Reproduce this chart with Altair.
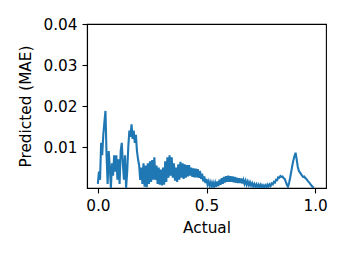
import altair as alt
import pandas as pd

actual = [
    0.000, 0.005, 0.010, 0.015, 0.020, 0.025, 0.030, 0.035, 0.040, 0.045,
    0.050, 0.055, 0.060, 0.065, 0.070, 0.075, 0.080, 0.085, 0.090, 0.095,
    0.100, 0.105, 0.110, 0.115, 0.120, 0.125, 0.130, 0.135, 0.140, 0.145,
    0.150, 0.155, 0.160, 0.165, 0.170, 0.175, 0.180, 0.185, 0.190, 0.195,
    0.200, 0.205, 0.210, 0.215, 0.220, 0.225, 0.230, 0.235, 0.240, 0.245,
    0.250, 0.255, 0.260, 0.265, 0.270, 0.275, 0.280, 0.285, 0.290, 0.295,
    0.300, 0.305, 0.310, 0.315, 0.320, 0.325, 0.330, 0.335, 0.340, 0.345,
    0.350, 0.355, 0.360, 0.365, 0.370, 0.375, 0.380, 0.385, 0.390, 0.395,
    0.400, 0.405, 0.410, 0.415, 0.420, 0.425, 0.430, 0.435, 0.440, 0.445,
    0.450, 0.455, 0.460, 0.465, 0.470, 0.475, 0.480, 0.485, 0.490, 0.495,
    0.500, 0.505, 0.510, 0.515, 0.520, 0.525, 0.530, 0.535, 0.540, 0.545,
    0.550, 0.555, 0.560, 0.565, 0.570, 0.575, 0.580, 0.585, 0.590, 0.595,
    0.600, 0.605, 0.610, 0.615, 0.620, 0.625, 0.630, 0.635, 0.640, 0.645,
    0.650, 0.655, 0.660, 0.665, 0.670, 0.675, 0.680, 0.685, 0.690, 0.695,
    0.700, 0.705, 0.710, 0.715, 0.720, 0.725, 0.730, 0.735, 0.740, 0.745,
    0.750, 0.755, 0.760, 0.765, 0.770, 0.775, 0.780, 0.785, 0.790, 0.795,
    0.800, 0.805, 0.810, 0.815, 0.820, 0.825, 0.830, 0.835, 0.840, 0.845,
    0.850, 0.855, 0.860, 0.865, 0.870, 0.875, 0.880, 0.885, 0.890, 0.895,
    0.900, 0.905, 0.910, 0.915, 0.920, 0.925, 0.930, 0.935, 0.940, 0.945,
    0.950, 0.955, 0.960, 0.965, 0.970, 0.975, 0.980, 0.985, 0.990, 0.995,
]

predicted_mae = [
    0.0010, 0.0040, 0.0020, 0.0110, 0.0080, 0.0130, 0.0160, 0.0188, 0.0080, 0.0010,
    0.0090, 0.0050, 0.0000, 0.0060, 0.0030, 0.0080, 0.0040, 0.0080, 0.0020, 0.0070,
    0.0010, 0.0090, 0.0110, 0.0060, 0.0020, 0.0080, 0.0000, 0.0040, 0.0100, 0.0140,
    0.0125, 0.0155, 0.0120, 0.0140, 0.0110, 0.0130, 0.0090, 0.0070, 0.0055, 0.0020,
    0.0050, 0.0010, 0.0060, 0.0003, 0.0055, 0.0002, 0.0060, 0.0010, 0.0065, 0.0015,
    0.0068, 0.0020, 0.0075, 0.0020, 0.0055, 0.0010, 0.0050, 0.0008, 0.0045, 0.0006,
    0.0050, 0.0008, 0.0065, 0.0015, 0.0075, 0.0025, 0.0080, 0.0030, 0.0075, 0.0025,
    0.0060, 0.0018, 0.0050, 0.0015, 0.0058, 0.0020, 0.0064, 0.0025, 0.0060, 0.0022,
    0.0058, 0.0025, 0.0056, 0.0028, 0.0056, 0.0030, 0.0050, 0.0027, 0.0048, 0.0026,
    0.0047, 0.0026, 0.0046, 0.0025, 0.0042, 0.0022, 0.0035, 0.0016, 0.0028, 0.0012,
    0.0022, 0.0008, 0.0016, 0.0005, 0.0014, 0.0004, 0.0013, 0.0003, 0.0013, 0.0003,
    0.0016, 0.0005, 0.0020, 0.0008, 0.0024, 0.0010, 0.0027, 0.0013, 0.0029, 0.0015,
    0.0030, 0.0015, 0.0029, 0.0015, 0.0028, 0.0014, 0.0027, 0.0013, 0.0025, 0.0012,
    0.0024, 0.0012, 0.0023, 0.0011, 0.0020, 0.0010, 0.0018, 0.0008, 0.0016, 0.0007,
    0.0014, 0.0006, 0.0012, 0.0004, 0.0010, 0.0003, 0.0009, 0.0002, 0.0008, 0.0002,
    0.0008, 0.0002, 0.0007, 0.0002, 0.0007, 0.0002, 0.0008, 0.0003, 0.0009, 0.0005,
    0.0011, 0.0009, 0.0015, 0.0013, 0.0020, 0.0019, 0.0026, 0.0025, 0.0029, 0.0027,
    0.0028, 0.0024, 0.0022, 0.0015, 0.0008, 0.0003, 0.0012, 0.0025, 0.0040, 0.0055,
    0.0068, 0.0078, 0.0086, 0.0070, 0.0052, 0.0042, 0.0038, 0.0034, 0.0030, 0.0027,
    0.0028, 0.0024, 0.0022, 0.0018, 0.0015, 0.0012, 0.0008, 0.0005, 0.0002, 0.0001,
]

x_ticks = [0.0, 0.5, 1.0]
y_ticks = [0.01, 0.02, 0.03, 0.04]

df = pd.DataFrame({"Actual": actual, "Predicted (MAE)": predicted_mae})

FONT = "DejaVu Sans"
FS = 15.3

chart = (
    alt.Chart(df)
    .mark_line(color="#1f77b4", strokeWidth=2.1, clip=True)
    .encode(
        x=alt.X(
            "Actual:Q",
            scale=alt.Scale(domain=[-0.05, 1.05], nice=False, zero=False),
            axis=alt.Axis(values=x_ticks, format=".1f", title="Actual", titlePadding=7),
        ),
        y=alt.Y(
            "Predicted (MAE):Q",
            scale=alt.Scale(domain=[0, 0.04], nice=False),
            axis=alt.Axis(values=y_ticks, format=".2f", title="Predicted (MAE)", titlePadding=9),
        ),
    )
    .properties(
        width=239,
        height=164,
        autosize=alt.AutoSizeParams(type="none"),
        padding={"left": 79, "top": 16, "right": 15, "bottom": 60},
    )
    .configure_view(stroke="black", strokeWidth=1.1)
    .configure_axis(
        grid=False,
        domainColor="black",
        domainWidth=1.1,
        tickColor="black",
        tickWidth=1.1,
        tickSize=5,
        labelPadding=5,
        labelFont=FONT,
        labelFontSize=FS,
        labelColor="black",
        titleFont=FONT,
        titleFontSize=FS,
        titleFontWeight="normal",
        titleColor="black",
    )
)

chart.save("out.html", embed_options={"renderer": "svg", "actions": False})
